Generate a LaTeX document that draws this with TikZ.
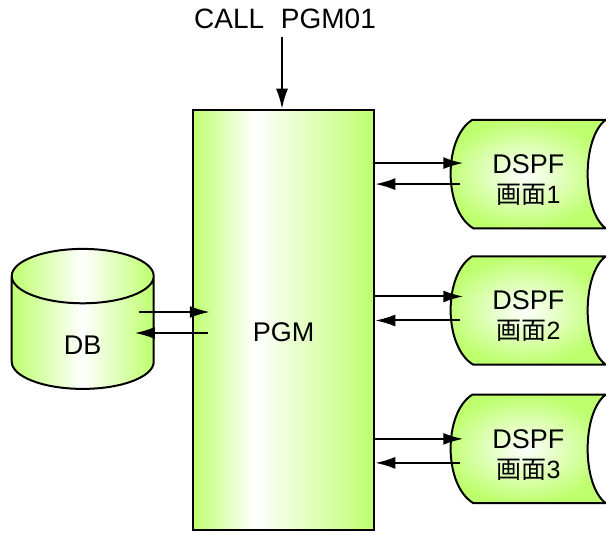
\documentclass[tikz,border=0pt]{standalone}
\usepackage{fontspec}
\setmainfont{Liberation Sans}
\newfontfamily\cjk{Noto Sans CJK JP}
\usepackage{tikz}
\usetikzlibrary{arrows.meta}
\usetikzlibrary{shapes.geometric,positioning,backgrounds}
\definecolor{pgmgreen}{RGB}{190,255,110}
\pgfdeclarehorizontalshading{pgm-shade}{100bp}{color(0bp)=(pgmgreen); color(25bp)=(pgmgreen); color(42bp)=(white); color(75bp)=(pgmgreen); color(100bp)=(pgmgreen)}
\tikzset{>={Latex[length=20pt,width=12pt]}}
\tikzset{flow-line/.style={line width=2pt}}
\tikzset{big-text/.style={font=\fontsize{27}{30}\selectfont}}
\tikzset{pgm-box/.style={draw, line width=2.5pt, shade, shading=pgm-shade, minimum width=181pt, minimum height=420pt, inner sep=0}}
\tikzset{db-store/.style={cylinder, shape border rotate=90, aspect=1.45, draw, line width=2pt, left color=pgmgreen, right color=pgmgreen, middle color=white, minimum width=142pt, minimum height=140pt, inner sep=0}}
\tikzset{dspf-node/.style={minimum width=156pt, minimum height=108pt, inner sep=0, align=center, text height=61pt}}
\tikzset{dspf-line/.style={draw, line width=2pt, inner color=white, outer color=pgmgreen}}
\newcommand{\gamen}[1]{{\fontsize{25}{30}\selectfont{\cjk 画面}#1}}
\newcommand{\dspfborder}[1]{%
  \path[dspf-line] ([xshift=22pt]#1.north west) -- ([xshift=-1pt]#1.north east)
    .. controls ([xshift=-25pt,yshift=-18pt]#1.north east) and ([xshift=-25pt,yshift=18pt]#1.south east) .. ([xshift=-1pt]#1.south east)
    -- ([xshift=23pt]#1.south west)
    .. controls ([xshift=-7pt,yshift=18pt]#1.south west) and ([xshift=-7pt,yshift=-18pt]#1.north west) .. cycle;}

\begin{document}
\begin{tikzpicture}[x=1pt, y=1pt]
            \useasboundingbox (0,0) rectangle (606,534);

            \node[pgm-box, big-text, text height=43pt] (pgm) at (283.5,214) {PGM};
            \node[font=\fontsize{28}{30}\selectfont, inner sep=0, outer sep=8pt, above=72pt of pgm.north, xshift=1.5pt] (call) {CALL\hspace{0.6em}PGM01};

            \node[db-store, big-text, text height=43pt, left=37pt of pgm.west, yshift=-13pt] (db) {DB};

            \node[dspf-node, big-text, right=75pt of pgm.east, yshift=9.5pt] (dspf2) {DSPF\\\gamen{2}};
            \node[dspf-node, big-text, above=28pt of dspf2] (dspf1) {DSPF\\\gamen{1}};
            \node[dspf-node, big-text, below=30pt of dspf2] (dspf3) {DSPF\\\gamen{3}};

            \begin{scope}[on background layer]
                \dspfborder{dspf1}
                \dspfborder{dspf2}
                \dspfborder{dspf3}
            \end{scope}

            \draw[->, flow-line] ([xshift=-3pt]call.south) -- ([xshift=-1.5pt]pgm.north);

            \draw[->, flow-line] ([xshift=-16pt,yshift=21pt]db.east) -- ([xshift=18pt,yshift=8pt]pgm.west);
            \draw[->, flow-line] ([xshift=16pt,yshift=-13pt]pgm.west) -- ([xshift=-20pt,yshift=0pt]db.east);

            \draw[->, flow-line] ([yshift=11pt]dspf1.west -| pgm.east) -- ([xshift=13pt,yshift=11pt]dspf1.west);
            \draw[->, flow-line] ([xshift=10pt,yshift=-10pt]dspf1.west) -- ([yshift=-10pt]dspf1.west -| pgm.east);

            \draw[->, flow-line] ([yshift=14pt]dspf2.west -| pgm.east) -- ([xshift=13pt,yshift=14pt]dspf2.west);
            \draw[->, flow-line] ([xshift=10pt,yshift=-10pt]dspf2.west) -- ([yshift=-10pt]dspf2.west -| pgm.east);

            \draw[->, flow-line] ([yshift=10pt]dspf3.west -| pgm.east) -- ([xshift=13pt,yshift=10pt]dspf3.west);
            \draw[->, flow-line] ([xshift=10pt,yshift=-14pt]dspf3.west) -- ([yshift=-14pt]dspf3.west -| pgm.east);

        \end{tikzpicture}
\end{document}
